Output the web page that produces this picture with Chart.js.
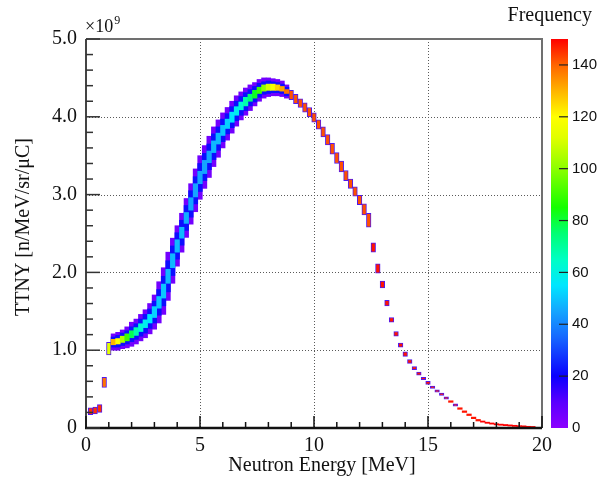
<!DOCTYPE html>
<html lang="en">
<head>
<meta charset="UTF-8">
<title>TTNY vs Neutron Energy</title>
<script src="https://cdn.jsdelivr.net/npm/chart.js"></script>
<style>
  body { margin: 0; background: #fff; }
  canvas { display: block; }
</style>
</head>
<body>
<canvas id="chart" width="603" height="479"></canvas>
<script>
// ---- data (TTNY in units of 1e9 n/MeV/sr/uC, energy in MeV, 0.2 MeV bins) ----
// wide band region: outer (low counts), blue layer, core layer
const bandE    = [1.2,1.4,1.6,1.8,2.0,2.2,2.4,2.6,2.8,3.0,3.2,3.4,3.6,3.8,4.0,4.2,4.4,4.6,4.8,5.0,5.2,5.4,5.6,5.8,6.0,6.2,6.4,6.6,6.8,7.0,7.2,7.4,7.6,7.8,8.0,8.2,8.4,8.6,8.8];
const bandLo   = [1.00,1.00,1.02,1.03,1.05,1.08,1.12,1.16,1.21,1.27,1.35,1.46,1.64,1.86,2.08,2.26,2.45,2.62,2.78,2.94,3.08,3.22,3.36,3.48,3.60,3.70,3.79,3.88,3.96,4.02,4.08,4.14,4.20,4.24,4.26,4.27,4.27,4.26,4.24];
const bandHi   = [1.21,1.23,1.26,1.30,1.36,1.40,1.46,1.52,1.60,1.71,1.88,2.06,2.26,2.44,2.60,2.76,2.95,3.14,3.33,3.50,3.63,3.75,3.87,3.96,4.05,4.12,4.20,4.27,4.32,4.37,4.41,4.44,4.48,4.50,4.50,4.49,4.48,4.46,4.41];
const blueLo   = [1.04,1.04,1.06,1.08,1.11,1.14,1.18,1.22,1.28,1.35,1.45,1.57,1.75,1.96,2.17,2.35,2.54,2.71,2.88,3.04,3.18,3.32,3.45,3.57,3.68,3.78,3.86,3.95,4.02,4.08,4.14,4.19,4.25,4.29,4.30,4.31,4.31,4.30,4.27];
const blueHi   = [1.17,1.19,1.22,1.25,1.30,1.34,1.40,1.46,1.53,1.63,1.78,1.95,2.15,2.34,2.51,2.67,2.86,3.05,3.23,3.40,3.53,3.65,3.78,3.87,3.97,4.04,4.13,4.20,4.26,4.31,4.35,4.39,4.43,4.45,4.46,4.45,4.44,4.42,4.38];
const coreLo   = [1.07,1.08,1.10,1.12,1.16,1.19,1.24,1.29,1.35,1.42,1.54,1.67,1.86,2.06,2.26,2.44,2.63,2.80,2.97,3.14,3.27,3.41,3.54,3.65,3.76,3.85,3.93,4.02,4.09,4.14,4.20,4.24,4.30,4.33,4.34,4.34,4.34,4.33,4.30];
const coreHi   = [1.14,1.15,1.18,1.21,1.25,1.29,1.34,1.39,1.46,1.56,1.69,1.85,2.04,2.24,2.42,2.58,2.77,2.96,3.14,3.30,3.44,3.56,3.69,3.79,3.89,3.97,4.06,4.13,4.19,4.25,4.29,4.34,4.38,4.41,4.42,4.42,4.41,4.39,4.35];
const coreFreq = [130,120,105,90,78,68,62,58,55,52,50,50,48,48,48,48,46,45,45,45,45,45,48,48,50,52,55,58,62,68,75,82,90,100,110,118,126,132,138];
const outerFreq = 5;
const blueFreq = 22;

// narrow columns (low-energy points and the falling edge / tail)
const colE  = [0.2,0.4,0.6,0.8,1.0,9.0,9.2,9.4,9.6,9.8,10.0,10.2,10.4,10.6,10.8,11.0,11.2,11.4,11.6,11.8,12.0,12.2,12.4,12.6,12.8,13.0,13.2,13.4,13.6,13.8,14.0,14.2,14.4,14.6,14.8,15.0,15.2,15.4,15.6,15.8,16.0,16.2,16.4,16.6,16.8,17.0,17.2,17.4,17.6,17.8,18.0,18.2,18.4,18.6,18.8,19.0,19.2,19.4,19.6];
const colLo = [0.17,0.18,0.20,0.52,0.94,4.22,4.17,4.12,4.06,4.00,3.93,3.84,3.74,3.64,3.52,3.40,3.29,3.18,3.08,2.98,2.87,2.74,2.58,2.26,1.99,1.80,1.57,1.36,1.18,1.04,0.92,0.83,0.75,0.68,0.62,0.56,0.51,0.46,0.42,0.37,0.33,0.28,0.24,0.20,0.16,0.12,0.09,0.075,0.06,0.05,0.04,0.035,0.03,0.025,0.02,0.018,0.015,0.01,0.008];
const colHi = [0.26,0.27,0.30,0.65,1.10,4.34,4.29,4.23,4.18,4.12,4.05,3.96,3.87,3.77,3.66,3.54,3.43,3.31,3.20,3.10,2.99,2.88,2.76,2.38,2.11,1.89,1.64,1.42,1.24,1.09,0.98,0.88,0.79,0.72,0.65,0.60,0.54,0.49,0.45,0.40,0.35,0.31,0.26,0.22,0.18,0.14,0.11,0.09,0.075,0.065,0.055,0.05,0.045,0.04,0.035,0.03,0.028,0.022,0.02];
const colFreq = [145,145,145,138,112,142,142,142,142,142,142,142,142,142,142,142,142,142,142,142,142,142,142,148,148,148,148,148,148,148,148,148,148,148,148,148,148,148,148,148,148,148,148,148,148,148,148,150,150,150,150,150,150,150,150,150,150,150,150];

const xTicksMajor = [0, 5, 10, 15, 20];
const yTicksMajor = [0, 1, 2, 3, 4, 5];
const zTicks = [0, 20, 40, 60, 80, 100, 120, 140];

// ---- colour palette (old ROOT rainbow) ----
const palette = [[0,'#8c00ff'],[10,'#5a00ff'],[20,'#0a00ff'],[35,'#1768ff'],[45,'#15a5ff'],[55,'#00e6ff'],[65,'#00ffc4'],[75,'#00ff74'],[85,'#14ff00'],[100,'#8cff00'],[112,'#e1ff00'],[120,'#ffff00'],[130,'#ffb400'],[140,'#ff6400'],[150,'#ff0000']];
const zMax = 150;

function hexRgb(h) {
  return [parseInt(h.slice(1,3),16), parseInt(h.slice(3,5),16), parseInt(h.slice(5,7),16)];
}
function freqColor(v) {
  if (v <= palette[0][0]) return palette[0][1];
  for (let i = 1; i < palette.length; i++) {
    if (v <= palette[i][0]) {
      const a = palette[i-1], b = palette[i];
      const t = (v - a[0]) / (b[0] - a[0]);
      const ca = hexRgb(a[1]), cb = hexRgb(b[1]);
      const c = ca.map((x, k) => Math.round(x + (cb[k] - x) * t));
      return 'rgb(' + c.join(',') + ')';
    }
  }
  return palette[palette.length-1][1];
}

function pairs(xs, lo, hi) {
  return xs.map((x, i) => ({ x: x, y: [lo[i], hi[i]] }));
}

const serif = '"Liberation Serif", "Times New Roman", serif';
const sans = '"Liberation Sans", Arial, sans-serif';

// grid, inner ticks, frame, palette bar and texts
const rootStyle = {
  id: 'rootStyle',
  beforeDatasetsDraw(chart) {
    const { ctx, chartArea: a, scales: { x, y } } = chart;
    ctx.save();
    ctx.strokeStyle = '#5a5a5a';
    ctx.lineWidth = 1;
    ctx.setLineDash([1, 2]);
    xTicksMajor.slice(1, -1).forEach(v => {
      const px = Math.round(x.getPixelForValue(v)) + 0.5;
      ctx.beginPath(); ctx.moveTo(px, a.top); ctx.lineTo(px, a.bottom); ctx.stroke();
    });
    yTicksMajor.slice(1, -1).forEach(v => {
      const py = Math.round(y.getPixelForValue(v)) + 0.5;
      ctx.beginPath(); ctx.moveTo(a.left, py); ctx.lineTo(a.right, py); ctx.stroke();
    });
    ctx.restore();
  },
  afterDraw(chart) {
    const { ctx, chartArea: a, scales: { x, y, z } } = chart;
    ctx.save();
    // top / right frame
    ctx.strokeStyle = '#707070';
    ctx.lineWidth = 2;
    ctx.beginPath();
    ctx.moveTo(a.left, a.top); ctx.lineTo(a.right, a.top); ctx.lineTo(a.right, a.bottom);
    ctx.stroke();
    // axes
    ctx.strokeStyle = '#444';
    ctx.beginPath(); ctx.moveTo(a.left, a.top); ctx.lineTo(a.left, a.bottom); ctx.stroke();
    ctx.strokeStyle = '#111';
    ctx.lineWidth = 2.5;
    ctx.beginPath(); ctx.moveTo(a.left - 1, a.bottom); ctx.lineTo(a.right, a.bottom); ctx.stroke();

    // inner tick marks
    ctx.lineWidth = 1.5;
    ctx.strokeStyle = '#333';
    y.ticks.forEach(t => {
      const major = Math.abs(t.value - Math.round(t.value)) < 1e-6;
      const py = y.getPixelForValue(t.value);
      ctx.beginPath(); ctx.moveTo(a.left, py); ctx.lineTo(a.left + (major ? 14 : 7), py); ctx.stroke();
    });
    ctx.strokeStyle = '#111';
    x.ticks.forEach(t => {
      const major = t.value % 5 === 0;
      const px = x.getPixelForValue(t.value);
      ctx.beginPath(); ctx.moveTo(px, a.bottom); ctx.lineTo(px, a.bottom - (major ? 12 : 6)); ctx.stroke();
    });

    // palette bar
    const bx = 551, bw = 17;
    const top = z.getPixelForValue(zMax), bot = z.getPixelForValue(0);
    const g = ctx.createLinearGradient(0, bot, 0, top);
    palette.forEach(p => g.addColorStop(p[0] / zMax, p[1]));
    ctx.fillStyle = g;
    ctx.fillRect(bx, top, bw, bot - top);
    ctx.strokeStyle = '#222';
    ctx.lineWidth = 1.2;
    zTicks.slice(1).forEach(v => {
      const py = z.getPixelForValue(v);
      ctx.beginPath(); ctx.moveTo(bx + 8, py); ctx.lineTo(bx + bw, py); ctx.stroke();
    });

    // texts
    ctx.fillStyle = '#111';
    ctx.font = '20px ' + serif;
    ctx.textAlign = 'right';
    ctx.textBaseline = 'alphabetic';
    ctx.fillText('Frequency', 592, 21);
    ctx.textAlign = 'center';
    ctx.fillText('Neutron Energy [MeV]', 322, 471);
    ctx.textAlign = 'left';
    ctx.font = '18px ' + serif;
    ctx.fillText('\u00d710', 85, 32);
    const w = ctx.measureText('\u00d710').width;
    ctx.font = '12px ' + serif;
    ctx.fillText('9', 85 + w + 1, 24);
    ctx.save();
    ctx.translate(24, 227);
    ctx.rotate(-Math.PI / 2);
    ctx.textAlign = 'center';
    ctx.textBaseline = 'middle';
    ctx.font = '20px ' + serif;
    ctx.fillText('TTNY [n/MeV/sr/\u03bcC]', 0, 0);
    ctx.restore();
    ctx.restore();
  }
};

const barBase = {
  type: 'bar',
  grouped: false,
  barPercentage: 1,
  categoryPercentage: 1,
  borderSkipped: false
};

new Chart(document.getElementById('chart'), {
  type: 'bar',
  data: {
    datasets: [
      Object.assign({}, barBase, {
        label: 'core', order: 0,
        data: pairs(bandE, coreLo, coreHi),
        backgroundColor: c => freqColor(coreFreq[c.dataIndex])
      }),
      Object.assign({}, barBase, {
        label: 'columns', order: 0,
        data: pairs(colE, colLo, colHi),
        backgroundColor: c => freqColor(colFreq[c.dataIndex]),
        borderColor: '#5018f0',
        borderWidth: c => (colHi[c.dataIndex] - colLo[c.dataIndex]) > 0.025 ? 1 : 0
      }),
      Object.assign({}, barBase, {
        label: 'blue', order: 1,
        data: pairs(bandE, blueLo, blueHi),
        backgroundColor: freqColor(blueFreq)
      }),
      Object.assign({}, barBase, {
        label: 'outer', order: 2,
        data: pairs(bandE, bandLo, bandHi),
        backgroundColor: freqColor(outerFreq)
      })
    ]
  },
  options: {
    responsive: false,
    animation: false,
    layout: { padding: { top: 35, left: 0, right: 0, bottom: 0 } },
    plugins: { legend: { display: false }, tooltip: { enabled: false } },
    scales: {
      x: {
        type: 'linear', min: 0, max: 20, offset: false,
        grid: { display: false, drawTicks: false },
        border: { display: false },
        ticks: {
          stepSize: 1, autoSkip: false, maxRotation: 0, padding: 6,
          color: '#111', font: { family: serif, size: 20 },
          callback: v => (v % 5 === 0 ? String(v) : '')
        },
        afterFit: s => { s.height = 51; }
      },
      y: {
        type: 'linear', min: 0, max: 5,
        grid: { display: false, drawTicks: false },
        border: { display: false },
        ticks: {
          stepSize: 0.2, autoSkip: false, padding: 9,
          color: '#111', font: { family: serif, size: 20 },
          callback: v => {
            const r = Math.round(v);
            if (Math.abs(v - r) > 1e-6) return '';
            return r === 0 ? '0' : r.toFixed(1);
          }
        },
        afterFit: s => { s.width = 86; }
      },
      z: {
        type: 'linear', axis: 'y', position: 'right', min: 0, max: zMax,
        grid: { display: false, drawTicks: false },
        border: { display: false },
        ticks: {
          stepSize: 20, includeBounds: false, autoSkip: false, padding: 30,
          color: '#111', font: { family: sans, size: 15 }
        },
        afterFit: s => { s.width = 61; }
      }
    }
  },
  plugins: [rootStyle]
});
</script>
</body>
</html>
